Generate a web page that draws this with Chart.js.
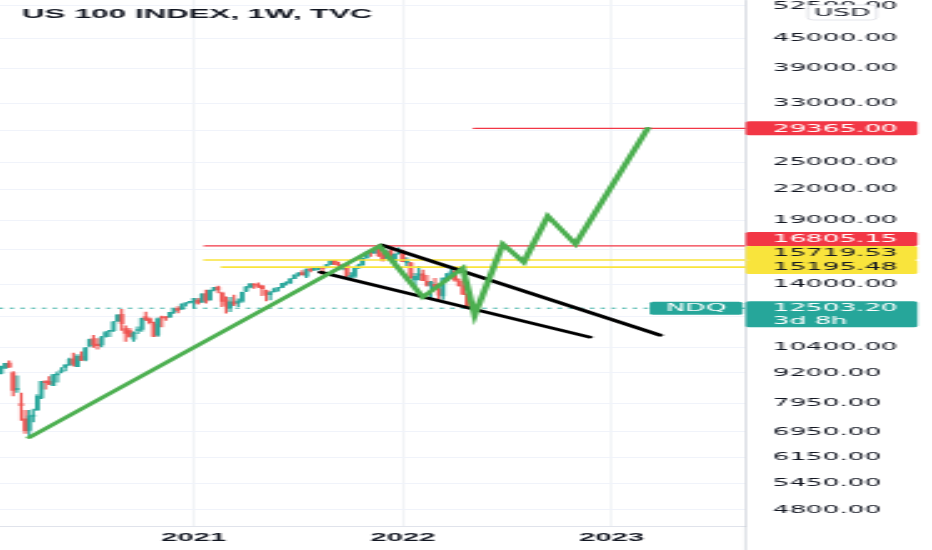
<!DOCTYPE html>
<html>
<head>
<meta charset="utf-8">
<title>US 100 INDEX, 1W, TVC</title>
<style>
  html, body { margin: 0; padding: 0; background: #ffffff; }
  #chart { display: block; }
</style>
<script src="https://cdn.jsdelivr.net/npm/chart.js"></script>
</head>
<body>
<!-- the source screenshot is stretched sideways, so the canvas is drawn narrow and shown at full width -->
<canvas id="chart" width="373" height="550" style="width:932px;height:550px"></canvas>
<script>
// weekly candles of TVC:NDQ, index 0 = week of 27 Jan 2020, last = week of 25 Apr 2022
var OPEN = [
  9270, 9180, 9410, 9640, 9200, 8500, 7950, 7400, 7000, 7480,
  7720, 8170, 8800, 8840, 8660, 9110, 9250, 9440, 9540, 9830,
  9470, 9950, 9780, 10450, 10820, 10540, 10510, 10940, 11200, 11240,
  11760, 12150, 11350, 11250, 10800, 11250, 11300, 12020, 11890, 11580,
  11000, 12000, 11970, 12000, 12300, 12500, 12450, 12760, 12850, 12900,
  13000, 12870, 13400, 13000, 13640, 13830, 13440, 13000, 12500, 12880,
  12800, 12930, 13550, 13820, 14000, 13990, 13900, 13600, 13330, 13530,
  13730, 13800, 14080, 14120, 14390, 14660, 14800, 14550, 15060, 15000,
  15120, 15160, 15150, 15400, 15670, 15420, 15100, 15330, 14520, 14560,
  15130, 15360, 15880, 16340, 16260, 16640, 16260, 15850, 16400, 15600,
  16200, 16400, 15500, 15500, 14300, 14600, 14720, 14200, 13900, 14000,
  13700, 13250, 14400, 14740, 14900, 14200, 13900, 13350
];
var HIGH = [
  9300, 9500, 9630, 9736, 9260, 9070, 8360, 7700, 7700, 7750,
  8300, 8840, 8870, 9040, 9140, 9250, 9430, 9560, 9870, 10110,
  10030, 10160, 10380, 10800, 10990, 10820, 10940, 11200, 11260, 11740,
  12110, 12440, 11500, 11360, 11180, 11450, 11930, 12280, 11950, 11700,
  11950, 12050, 12020, 12260, 12470, 12600, 12770, 12840, 12920, 13110,
  13100, 13400, 13620, 13640, 13810, 13880, 13500, 13200, 13160, 13300,
  13080, 13490, 13850, 14060, 14060, 14100, 13920, 13630, 13540, 13750,
  13800, 14070, 14170, 14390, 14650, 14800, 14950, 15060, 15140, 15130,
  15170, 15200, 15380, 15670, 15700, 15560, 15380, 15420, 14800, 15150,
  15410, 15860, 16350, 16410, 16590, 16765, 16460, 16440, 16600, 16200,
  16660, 16480, 15900, 15520, 14750, 15250, 14980, 14620, 14210, 14400,
  13900, 14440, 14750, 15265, 15090, 14370, 14360, 13450
];
var LOW = [
  9100, 9150, 9400, 9440, 8250, 8380, 7340, 6900, 6771, 7290,
  7700, 8140, 8510, 8700, 8660, 8800, 9200, 9290, 9540, 9500,
  9470, 9760, 9740, 10400, 10380, 10290, 10400, 10900, 10930, 11200,
  11740, 11250, 10680, 10900, 10680, 11080, 11200, 11780, 11610, 10930,
  10940, 11440, 11800, 11950, 12200, 12230, 12430, 12630, 12800, 12500,
  12750, 12850, 12800, 12990, 13570, 13450, 12600, 12210, 12300, 12650,
  12600, 12850, 13530, 13760, 13740, 13780, 13270, 12950, 13000, 13500,
  13550, 13780, 13950, 14050, 14380, 14550, 14640, 14450, 14850, 14940,
  15000, 14700, 15140, 15390, 15370, 15290, 14990, 14490, 14370, 14450,
  15100, 15340, 15860, 15980, 16200, 15990, 15630, 15830, 15730, 15600,
  16150, 15600, 15300, 14420, 13725, 14300, 14250, 13880, 13020, 13760,
  13030, 13040, 14240, 14680, 14200, 13900, 13340, 12480
];
var CLOSE = [
  9150, 9402, 9623, 9447, 8462, 8530, 7875, 6994, 7502, 7528,
  8231, 8833, 8784, 8718, 9121, 9152, 9325, 9556, 9814, 9589,
  9946, 9759, 10342, 10768, 10503, 10461, 10906, 11138, 11219, 11721,
  12110, 11623, 11088, 10939, 11117, 11278, 11916, 11852, 11668, 10938,
  11895, 11937, 11939, 12258, 12465, 12376, 12756, 12804, 12888, 13105,
  12804, 13367, 12925, 13613, 13808, 13629, 12909, 12668, 12883, 12758,
  12926, 13481, 13845, 14041, 13960, 13861, 13720, 13353, 13469, 13687,
  13773, 14069, 14141, 14380, 14640, 14770, 14644, 15057, 14959, 15129,
  15164, 15109, 15376, 15653, 15383, 15335, 15309, 14567, 14579, 15146,
  15335, 15850, 16322, 16250, 16573, 16026, 15712, 16400, 15876, 16155,
  16320, 15593, 15611, 14439, 14545, 14699, 14253, 13955, 14142, 13838,
  13301, 14420, 14726, 14862, 14283, 13896, 13358, 12503.2
];
var WEEKS = CLOSE.map(function (c, i) { return i; });

// time axis: first bar of each year
var YEAR_POS = [49, 101, 153];
var YEAR_LABELS = ['2021', '2022', '2023'];
var X_MIN = 0.73, X_MAX = 186.35;

// price axis (log)
var PRICE_TICKS = [4800, 5450, 6150, 6950, 7950, 9200, 10400, 12000, 14000, 16500, 19000, 22000, 25000, 29000, 33000, 39000, 45000, 52500];
var HIDDEN_TICKS = [12000, 16500, 29000];
var Y_MIN = 4448, Y_MAX = 53980;

// drawings
var PATH_X = [8, 95.2, 106, 115.9, 118.9, 125.9, 131.1, 137.1, 144, 162];
var PATH_Y = [6771, 16800, 13180, 15120, 12100, 16950, 15560, 19360, 16950, 29365];
var UPPER_X = [95.8, 165];
var UPPER_Y = [16870, 11000];
var LOWER_X = [80.6, 147.5];
var LOWER_Y = [14830, 10900];
var LEVELS = [29365.00, 16805.15, 15719.53, 15195.48];
var LEVEL_START = [118.7, 51.7, 51.7, 56];
var LEVEL_TEXT = ['29365.00', '16805.15', '15719.53', '15195.48'];
var LEVEL_KIND = ['red', 'red', 'yellow', 'yellow'];
var LAST_PRICE = 12503.20;
var COUNTDOWN = '3d 8h';
var SYMBOL = 'NDQ';
var CURRENCY = 'USD';
var TITLE = 'US 100 INDEX, 1W, TVC';

var UP = '#26a69a', DOWN = '#ef5350', TEAL = '#26a69a';
var RED = '#f23645', YELLOW = '#f9e43c', GREEN = '#4caf50';
var TICK_FONT = '10.5px "DejaVu Sans"';

function pts(xs, ys) {
  return xs.map(function (x, i) { return { x: x, y: ys[i] }; });
}

var candleColors = CLOSE.map(function (c, i) { return c >= OPEN[i] ? UP : DOWN; });

var datasets = [];
// drawings on top
datasets.push({ type: 'line', data: pts(PATH_X, PATH_Y), borderColor: GREEN, borderWidth: 2.7, order: 1 });
datasets.push({ type: 'line', data: pts(UPPER_X, UPPER_Y), borderColor: '#000000', borderWidth: 2.8, order: 2 });
datasets.push({ type: 'line', data: pts(LOWER_X, LOWER_Y), borderColor: '#000000', borderWidth: 2.8, order: 2 });
LEVELS.forEach(function (v, i) {
  datasets.push({
    type: 'line', data: [{ x: LEVEL_START[i], y: v }, { x: X_MAX, y: v }],
    borderColor: LEVEL_KIND[i] === 'red' ? RED : YELLOW,
    borderWidth: LEVEL_KIND[i] === 'red' ? 1.2 : 1.6, order: 3
  });
});
datasets.push({
  type: 'line', data: [{ x: X_MIN, y: LAST_PRICE }, { x: X_MAX, y: LAST_PRICE }],
  borderColor: TEAL, borderWidth: 1, borderDash: [0.9, 3.4], order: 20
});
// candles
datasets.push({
  type: 'bar', data: WEEKS.map(function (w, i) { return { x: w, y: [LOW[i], HIGH[i]] }; }),
  backgroundColor: candleColors, barThickness: 0.45, grouped: false, order: 11
});
datasets.push({
  type: 'bar', data: WEEKS.map(function (w, i) { return { x: w, y: [OPEN[i], CLOSE[i]] }; }),
  backgroundColor: candleColors, barThickness: 1.15, minBarLength: 1, grouped: false, order: 10
});
datasets.forEach(function (d) {
  if (d.type === 'line') {
    d.pointRadius = 0; d.tension = 0; d.clip = 0; d.fill = false;
    d.borderCapStyle = 'round';
  }
});

var overlay = {
  id: 'overlay',
  afterDraw: function (chart) {
    var ctx = chart.ctx;
    var area = chart.chartArea;
    var ys = chart.scales.y;
    var ax = area.right;
    var tagW = 367.2 - ax;
    var i;
    ctx.save();
    // separator runs down through the time axis
    ctx.strokeStyle = '#d1d4dc';
    ctx.lineWidth = 0.8;
    ctx.beginPath();
    ctx.moveTo(ax, area.bottom);
    ctx.lineTo(ax, chart.height);
    ctx.stroke();

    ctx.font = TICK_FONT;
    ctx.textBaseline = 'middle';
    ctx.textAlign = 'left';

    // level tags, pushed up where they would overlap
    var pos = LEVELS.map(function (v) { return ys.getPixelForValue(v); });
    for (i = pos.length - 2; i >= 0; i--) {
      if (pos[i] > pos[i + 1] - 14) pos[i] = pos[i + 1] - 14;
    }
    for (i = 0; i < pos.length; i++) {
      ctx.fillStyle = LEVEL_KIND[i] === 'red' ? RED : YELLOW;
      ctx.beginPath();
      ctx.roundRect(ax, pos[i] - 7, tagW, 14, 1.5);
      ctx.fill();
      ctx.fillStyle = LEVEL_KIND[i] === 'red' ? '#ffffff' : '#131722';
      ctx.fillText(LEVEL_TEXT[i], ax + 10.8, pos[i] + 0.5);
    }

    // last price + countdown
    var lp = ys.getPixelForValue(LAST_PRICE);
    ctx.fillStyle = TEAL;
    ctx.beginPath();
    ctx.roundRect(ax, lp - 7, tagW, 26, 1.5);
    ctx.fill();
    ctx.fillStyle = '#ffffff';
    ctx.fillText(LAST_PRICE.toFixed(2), ax + 10.8, lp + 0.5);
    ctx.fillText(COUNTDOWN, ax + 10.8, lp + 13);

    // symbol tag
    ctx.fillStyle = TEAL;
    ctx.beginPath();
    ctx.roundRect(ax - 38.4, lp - 6.5, 37.2, 13, 1.5);
    ctx.fill();
    ctx.fillStyle = '#ffffff';
    ctx.textAlign = 'center';
    ctx.fillText(SYMBOL, ax - 19.8, lp + 0.5);

    // currency button
    ctx.fillStyle = '#ffffff';
    ctx.strokeStyle = '#d1d4dc';
    ctx.lineWidth = 0.6;
    ctx.beginPath();
    ctx.roundRect(323.2, 5, 27.6, 15, 2.5);
    ctx.fill();
    ctx.stroke();
    ctx.fillStyle = '#131722';
    ctx.fillText(CURRENCY, 337, 12.8);

    // title
    ctx.textAlign = 'left';
    ctx.font = 'bold 12.5px "Liberation Sans"';
    ctx.fillText(TITLE, 8.8, 14.5);
    ctx.restore();
  }
};

new Chart(document.getElementById('chart'), {
  type: 'line',
  data: { datasets: datasets },
  options: {
    responsive: false,
    animation: false,
    devicePixelRatio: 1,
    events: [],
    layout: { padding: 0 },
    plugins: { legend: { display: false }, tooltip: { enabled: false } },
    scales: {
      x: {
        type: 'linear',
        min: X_MIN,
        max: X_MAX,
        offset: false,
        grid: { color: '#eef0f4', lineWidth: 0.8, drawTicks: false, offset: false },
        border: { color: '#e0e3eb', width: 1 },
        ticks: {
          autoSkip: false,
          maxRotation: 0,
          padding: 5,
          color: '#131722',
          font: { family: 'Liberation Sans', size: 11.7, weight: 'bold' },
          callback: function (v) {
            var i = YEAR_POS.indexOf(v);
            return i >= 0 ? YEAR_LABELS[i] : '';
          }
        },
        afterBuildTicks: function (s) {
          s.ticks = YEAR_POS.map(function (v) { return { value: v }; });
        },
        afterFit: function (s) {
          s.height = 24;
          s.paddingLeft = 0; s.paddingRight = 0;
        }
      },
      y: {
        type: 'logarithmic',
        position: 'right',
        min: Y_MIN,
        max: Y_MAX,
        bounds: 'data',
        grid: { color: '#f0f3fa', lineWidth: 1, drawTicks: false },
        border: { color: '#d1d4dc', width: 0.8 },
        ticks: {
          autoSkip: false,
          padding: 10.8,
          crossAlign: 'near',
          color: '#131722',
          font: { family: 'DejaVu Sans', size: 10.5 },
          callback: function (v) {
            return HIDDEN_TICKS.indexOf(v) >= 0 ? '' : v.toFixed(2);
          }
        },
        afterBuildTicks: function (s) {
          s.ticks = PRICE_TICKS.map(function (v) { return { value: v }; });
        },
        afterFit: function (s) {
          s.width = 74.6;
          s.paddingTop = 0; s.paddingBottom = 0;
        }
      }
    }
  },
  plugins: [overlay]
});
</script>
</body>
</html>
